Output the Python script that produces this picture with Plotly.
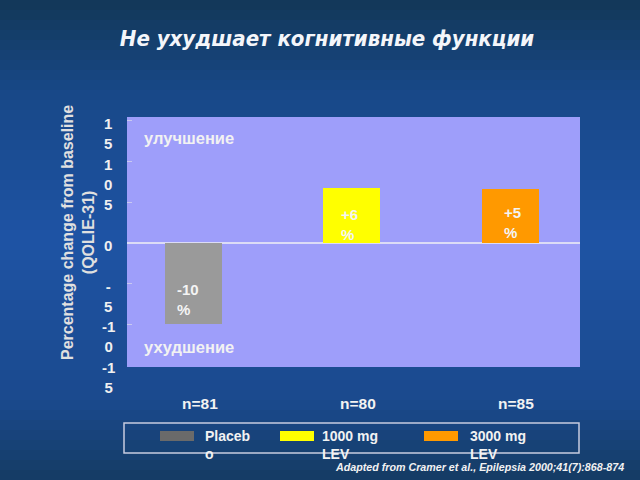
import plotly.graph_objects as go

# ---- data ----
groups = ["Placebo", "1000 mg LEV", "3000 mg LEV"]
legend_labels = ["Placeb<br>o", "1000 mg<br>LEV", "3000 mg<br>LEV"]
values = [-10.0, 6.7, 6.6]
bar_texts = ["-10<br>%", "+6<br>%", "+5<br>%"]
n_labels = ["n=81", "n=80", "n=85"]
y_ticks = [15, 10, 5, 0, -5, -10, -15]
y_ticktext = ["1<br>5", "1<br>0", "5", "0", "-<br>5", "-1<br>0", "-1<br>5"]

bar_colors = ["#9a9a9a", "#ffff00", "#ff9900"]
swatch_colors = ["#6a6a6a", "#ffff00", "#ff9900"]

W, H = 640, 480
L, R, T, B = 127, 60, 117, 113
pw, ph = W - L - R, H - T - B


def px_x(p):
    return (p - L) / pw


def px_y(p):
    return (H - B - p) / ph


xs = list(range(len(groups)))

fig = go.Figure()
fig.add_trace(go.Bar(x=xs, y=values, marker=dict(color=bar_colors, line=dict(width=0)),
                     width=0.36, showlegend=False, hoverinfo="skip"))

# background gradient bands
stops = [(0, (19, 56, 88)), (90, (24, 72, 135)), (240, (31, 84, 165)),
         (400, (27, 74, 142)), (480, (21, 60, 100))]
shapes = []
nb = 48
for i in range(nb):
    y0p = i * H / nb
    y1p = (i + 1) * H / nb
    ym = (y0p + y1p) / 2
    for j in range(len(stops) - 1):
        if stops[j][0] <= ym <= stops[j + 1][0]:
            t = (ym - stops[j][0]) / (stops[j + 1][0] - stops[j][0])
            c = tuple(int(stops[j][1][k] + t * (stops[j + 1][1][k] - stops[j][1][k])) for k in range(3))
            break
    shapes.append(dict(type="rect", xref="paper", yref="paper", layer="below",
                       x0=px_x(0), x1=px_x(W), y0=px_y(y1p), y1=px_y(y0p),
                       fillcolor="rgb(%d,%d,%d)" % c, line=dict(width=0)))
# plot area
shapes.append(dict(type="rect", xref="paper", yref="paper", layer="below",
                   x0=0, x1=1, y0=0, y1=1, fillcolor="#9e9efa", line=dict(width=0)))
# legend box
shapes.append(dict(type="rect", xref="paper", yref="paper",
                   x0=px_x(124), x1=px_x(579), y0=px_y(453), y1=px_y(423),
                   fillcolor="rgba(0,0,0,0)", line=dict(color="#c8cce0", width=1.5)))
sw_x = [160, 280, 424]
tx_x = [203, 320, 468]
for i in range(len(groups)):
    shapes.append(dict(type="rect", xref="paper", yref="paper",
                       x0=px_x(sw_x[i]), x1=px_x(sw_x[i] + 34), y0=px_y(441), y1=px_y(431),
                       fillcolor=swatch_colors[i], line=dict(width=0)))

ann = []
bold = dict(family="Liberation Sans, Arial", size=15, color="#f2f2f2", weight="bold")
# y tick labels
for v, t in zip(y_ticks, y_ticktext):
    ann.append(dict(x=px_x(108), xref="paper", y=v, yref="y", text=t, showarrow=False,
                    xanchor="center", yanchor="top", yshift=8, align="center",
                    font=dict(family="Liberation Sans, Arial", size=15, color="#f0f0f0", weight="bold")))
# y title
ann.append(dict(x=px_x(78), xref="paper", y=px_y(233), yref="paper",
                text="Percentage change from baseline<br>(QOLIE-31)", textangle=-90,
                showarrow=False, xanchor="center", yanchor="middle",
                font=dict(family="Liberation Sans, Arial", size=16, color="#e0e0e0", weight="bold")))
# n labels
for i, t in enumerate(n_labels):
    ann.append(dict(x=xs[i], xref="x", y=px_y(403), yref="paper", text=t, showarrow=False,
                    xanchor="center", yanchor="middle", xshift=6,
                    font=dict(family="Liberation Sans, Arial", size=15.5, color="#f2f2f2", weight="bold")))
# bar labels
lab_shift_x = [-19, -13, -8]
lab_shift_y = [-16, -9, -6]
for i, t in enumerate(bar_texts):
    ann.append(dict(x=xs[i], xref="x", y=values[i] / 2, yref="y", text=t, showarrow=False,
                    xanchor="left", yanchor="middle", align="left",
                    xshift=lab_shift_x[i], yshift=lab_shift_y[i],
                    font=dict(family="Liberation Sans, Arial", size=15, color="#f4f4f4", weight="bold")))
# region labels
region_font = dict(family="Liberation Sans, Arial", size=16.5, color="#f2f2f2", weight="bold")
ann.append(dict(x=px_x(142), xref="paper", y=px_y(138), yref="paper", text="улучшение",
                showarrow=False, xanchor="left", yanchor="middle", font=region_font))
ann.append(dict(x=px_x(142), xref="paper", y=px_y(347), yref="paper", text="ухудшение",
                showarrow=False, xanchor="left", yanchor="middle", font=region_font))
# legend texts
for i, t in enumerate(legend_labels):
    ann.append(dict(x=px_x(tx_x[i]), xref="paper", y=px_y(426), yref="paper", text=t,
                    showarrow=False, xanchor="left", yanchor="top", align="left",
                    font=dict(family="Liberation Sans, Arial", size=14, color="#f2f2f2", weight="bold")))
# citation
ann.append(dict(x=px_x(626), xref="paper", y=px_y(467), yref="paper",
                text="Adapted from Cramer et al., Epilepsia 2000;41(7):868-874",
                showarrow=False, xanchor="right", yanchor="middle",
                font=dict(family="Liberation Sans, Arial", size=10.7, color="#f2f2f2",
                          weight="bold", style="italic")))

fig.update_layout(
    width=W, height=H,
    margin=dict(l=L, r=R, t=T, b=B, pad=0),
    paper_bgcolor="#1c4a8c",
    plot_bgcolor="rgba(0,0,0,0)",
    title=dict(text="Не ухудшает когнитивные функции", x=(327) / W, xanchor="center",
               y=1 - 38 / H, yanchor="middle",
               font=dict(family="DejaVu Sans Condensed, DejaVu Sans", size=22, color="#f4f6fa",
                         weight="bold", style="italic")),
    shapes=shapes,
    annotations=ann,
    xaxis=dict(range=[-0.42, 2.44], showgrid=False, zeroline=False, showticklabels=False,
               ticks="", showline=False, fixedrange=True),
    yaxis=dict(range=[-15.23, 15.48], showgrid=False, zeroline=True, zerolinecolor="#dcdcf6",
               zerolinewidth=2, tickvals=[15, 10, 5, -5, -10], ticks="inside", ticklen=5,
               tickcolor="#c8c8f0", tickwidth=1, showticklabels=False, showline=False),
    bargap=0,
)

fig.write_html("out.html")
